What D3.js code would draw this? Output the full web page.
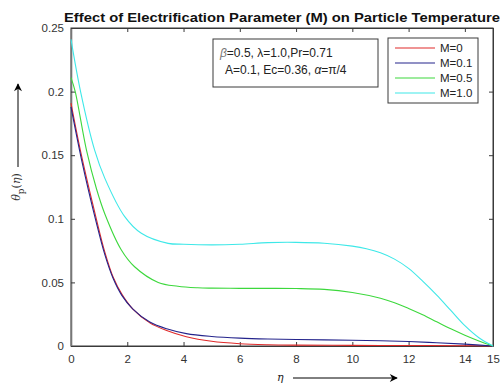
<!DOCTYPE html>
<html>
<head>
<meta charset="utf-8">
<script src="https://cdn.jsdelivr.net/npm/d3@7"></script>
<style>
  body { margin: 0; background: #fff; }
  svg { font-family: Arial, "Liberation Sans", Helvetica, sans-serif; }
</style>
</head>
<body>
<svg id="chart" width="500" height="383"></svg>
<script>
// values
const seriesNames = ["M=0", "M=0.1", "M=0.5", "M=1.0"];
const seriesColors = ["#e02a2a", "#24248c", "#3cd83c", "#3ee8e8"];

const etaM0 = [0, 0.37, 0.9, 1.2, 1.5, 1.8, 2.2, 2.8, 3.4, 4.1, 5, 6, 7, 8, 10, 12, 14, 15];
const thetaM0 = [0.191, 0.15, 0.1, 0.074, 0.054, 0.041, 0.029, 0.0182, 0.0122, 0.0073, 0.0037, 0.0018, 0.001, 0.0007, 0.0005, 0.0004, 0.0002, 0];

const etaM01 = [0, 0.37, 0.9, 1.2, 1.5, 1.8, 2.2, 2.8, 3.4, 4.1, 5, 6, 7, 8, 9, 10, 11, 12, 13, 14, 15];
const thetaM01 = [0.188, 0.147, 0.097, 0.072, 0.053, 0.04, 0.029, 0.0188, 0.0135, 0.0097, 0.0075, 0.0062, 0.0055, 0.0051, 0.0048, 0.0045, 0.0041, 0.0035, 0.0026, 0.0015, 0];

const etaM05 = [0, 0.15, 0.55, 0.9, 1.2, 1.79, 2.26, 3.1, 3.8, 4.5, 5, 6, 7, 8, 9, 10, 11, 11.5, 12, 12.5, 13, 13.5, 14, 14.5, 15];
const thetaM05 = [0.211, 0.2, 0.154, 0.124, 0.104, 0.0755, 0.0623, 0.05, 0.047, 0.0458, 0.0455, 0.0453, 0.0453, 0.0452, 0.0445, 0.042, 0.0375, 0.034, 0.0295, 0.0245, 0.019, 0.0135, 0.0085, 0.004, 0];

const etaM1 = [0, 0.34, 0.84, 1.2, 1.91, 2.5, 3.45, 4, 5, 6, 7, 8, 9, 10, 10.5, 11, 11.5, 12, 12.5, 13, 13.5, 14, 14.5, 15];
const thetaM1 = [0.241, 0.2, 0.154, 0.132, 0.1017, 0.0886, 0.0807, 0.08, 0.0795, 0.08, 0.0813, 0.0815, 0.0808, 0.0785, 0.0765, 0.0733, 0.0683, 0.061, 0.051, 0.04, 0.028, 0.016, 0.0065, 0];

const xTicks = [0, 2, 4, 6, 8, 10, 12, 14, 15];
const yTicks = [0, 0.05, 0.1, 0.15, 0.2, 0.25];
const paramLine1 = "β=0.5, λ=1.0,Pr=0.71";
const paramLine2 = "A=0.1, Ec=0.36, α=π/4";
const titleText = "Effect of Electrification Parameter (M) on Particle Temperature";

const series = [
  { name: seriesNames[0], color: seriesColors[0], xs: etaM0, ys: thetaM0 },
  { name: seriesNames[1], color: seriesColors[1], xs: etaM01, ys: thetaM01 },
  { name: seriesNames[2], color: seriesColors[2], xs: etaM05, ys: thetaM05 },
  { name: seriesNames[3], color: seriesColors[3], xs: etaM1, ys: thetaM1 }
];

const svg = d3.select("#chart");
const plotL = 71, plotR = 493, plotT = 28, plotB = 346;
const axisCol = "#3a3a3a";

const x = d3.scaleLinear().domain([0, 15]).range([plotL, plotR]);
const y = d3.scaleLinear().domain([0, 0.25]).range([plotB, plotT]);

// box
svg.append("rect")
  .attr("x", plotL).attr("y", plotT)
  .attr("width", plotR - plotL).attr("height", plotB - plotT)
  .attr("fill", "none").attr("stroke", axisCol).attr("stroke-width", 1);

// axes, ticks inside
const fmtY = d => d === 0 ? "0" : String(d);
const xAxis = svg.append("g").attr("transform", `translate(0,${plotB})`)
  .call(d3.axisBottom(x).tickValues(xTicks).tickSizeInner(-4).tickSizeOuter(0).tickPadding(9));
const xTop = svg.append("g").attr("transform", `translate(0,${plotT})`)
  .call(d3.axisTop(x).tickValues(xTicks).tickSizeInner(-4).tickSizeOuter(0).tickFormat(""));
const yAxis = svg.append("g").attr("transform", `translate(${plotL},0)`)
  .call(d3.axisLeft(y).tickValues(yTicks).tickSizeInner(-4).tickSizeOuter(0).tickPadding(7).tickFormat(fmtY));
const yRight = svg.append("g").attr("transform", `translate(${plotR},0)`)
  .call(d3.axisRight(y).tickValues(yTicks).tickSizeInner(-4).tickSizeOuter(0).tickFormat(""));

[xAxis, xTop, yAxis, yRight].forEach(g => {
  g.select(".domain").attr("stroke", axisCol);
  g.selectAll(".tick line").attr("stroke", axisCol);
  g.selectAll(".tick text").attr("fill", "#333").style("font-size", "11.5px").style("font-family", "Arial, 'Liberation Sans', sans-serif");
});
yAxis.select(".domain").attr("stroke-width", 1.6).attr("stroke", "#777");

// curves
const line = d3.line()
  .x(d => x(d[0]))
  .y(d => y(d[1]))
  .curve(d3.curveCatmullRom.alpha(0.5));

series.forEach(s => {
  const pts = s.xs.map((v, i) => [v, s.ys[i]]);
  svg.append("path")
    .datum(pts)
    .attr("d", line)
    .attr("fill", "none")
    .attr("stroke", s.color)
    .attr("stroke-width", 1.1);
});

// title
svg.append("text")
  .attr("x", 64).attr("y", 22)
  .attr("font-weight", "bold")
  .attr("font-size", 12.5)
  .attr("fill", "#111")
  .attr("textLength", 436)
  .attr("lengthAdjust", "spacingAndGlyphs")
  .text(titleText);

// parameter box
svg.append("rect")
  .attr("x", 213).attr("y", 39).attr("width", 165).attr("height", 48)
  .attr("fill", "#fff").attr("stroke", axisCol).attr("stroke-width", 1);
const p1 = svg.append("text").attr("x", 220).attr("y", 57).attr("font-size", 12).attr("fill", "#222");
p1.append("tspan").attr("font-style", "italic").attr("fill", "#777").text(paramLine1.slice(0, 1));
p1.append("tspan").text(paramLine1.slice(1));
const p2 = svg.append("text").attr("x", 225).attr("y", 74).attr("font-size", 12).attr("fill", "#222");
const aIdx = paramLine2.indexOf("α");
p2.append("tspan").text(paramLine2.slice(0, aIdx));
p2.append("tspan").attr("font-style", "italic").text("α");
p2.append("tspan").text(paramLine2.slice(aIdx + 1));

// legend
svg.append("rect")
  .attr("x", 388).attr("y", 38).attr("width", 90).attr("height", 65)
  .attr("fill", "#fff").attr("stroke", axisCol).attr("stroke-width", 1);
const leg = svg.append("g").selectAll("g").data(series).join("g")
  .attr("transform", (d, i) => `translate(395,${48 + i * 15})`);
leg.append("line").attr("x1", 0).attr("x2", 40).attr("y1", 0).attr("y2", 0)
  .attr("stroke", d => d.color).attr("stroke-width", 1.1);
leg.append("text").attr("x", 45).attr("y", 4).attr("font-size", 11.5).attr("fill", "#222")
  .text(d => d.name);

// arrow marker
svg.append("defs").append("marker")
  .attr("id", "arr").attr("viewBox", "0 0 10 10")
  .attr("refX", 9).attr("refY", 5)
  .attr("markerWidth", 10).attr("markerHeight", 8)
  .attr("markerUnits", "userSpaceOnUse")
  .attr("orient", "auto")
  .append("path").attr("d", "M0,0 L10,5 L0,10 L3,5 Z").attr("fill", "#000");

// x label with arrow
svg.append("text").attr("x", 277).attr("y", 381)
  .attr("font-size", 11).attr("font-style", "italic").attr("fill", "#222")
  .attr("font-family", "'DejaVu Serif', 'Liberation Serif', serif")
  .text("η");
svg.append("line").attr("x1", 293).attr("x2", 397).attr("y1", 378).attr("y2", 378)
  .attr("stroke", "#000").attr("stroke-width", 1).attr("marker-end", "url(#arr)");

// y label with arrow
const yl = svg.append("text")
  .attr("transform", "translate(20,187) rotate(-90)")
  .attr("text-anchor", "middle")
  .attr("font-size", 11).attr("fill", "#333")
  .attr("font-family", "'DejaVu Serif', 'Liberation Serif', serif");
yl.append("tspan").attr("font-style", "italic").text("θ");
yl.append("tspan").attr("dy", 4).attr("font-size", 9).text("p");
yl.append("tspan").attr("dy", -4).text("(");
yl.append("tspan").attr("font-style", "italic").text("η");
yl.append("tspan").text(")");
svg.append("line").attr("x1", 18).attr("x2", 18).attr("y1", 167).attr("y2", 84)
  .attr("stroke", "#000").attr("stroke-width", 1).attr("marker-end", "url(#arr)");
</script>
</body>
</html>
